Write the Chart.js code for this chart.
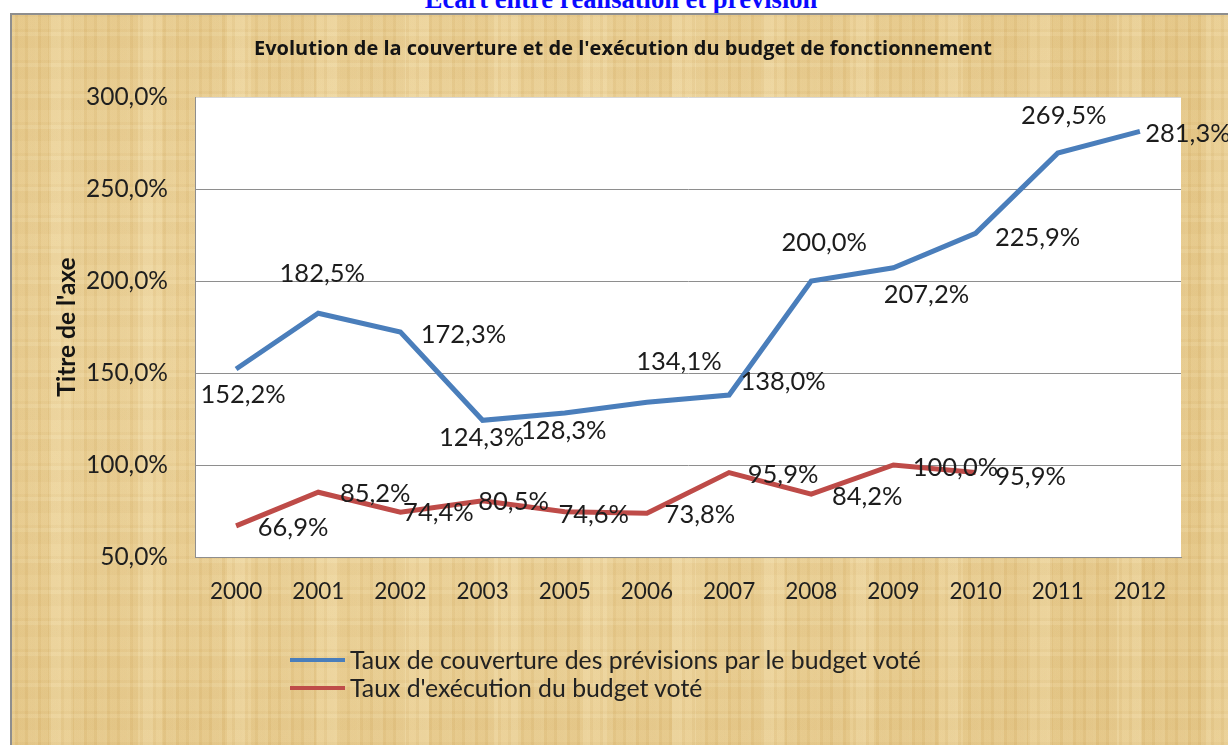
<!DOCTYPE html>
<html lang="fr">
<head>
<meta charset="utf-8">
<title>Budget de fonctionnement</title>
<script src="https://cdn.jsdelivr.net/npm/chart.js@4.4.1/dist/chart.umd.min.js"></script>
<style>
  html, body { margin: 0; padding: 0; background: #fff; }
  body { width: 1228px; height: 745px; position: relative; overflow: hidden; }
  #heading {
    position: absolute; left: 0; top: -14px; width: 1242px;
    text-align: center; font: bold 26.5px/26px "Liberation Serif", serif; color: #0a0aff;
  }
  /* parchment panel behind the chart */
  #panel {
    position: absolute; left: 10px; top: 13px; right: -4px; bottom: -4px;
    border-top: 2px solid #8e8e8e; border-left: 2px solid #8e8e8e;
    background-color: #e7ca8b;
    background-image:
      repeating-linear-gradient(90deg, rgba(255,246,214,0.13) 0 3px, rgba(196,154,84,0.07) 3px 6px, rgba(255,240,200,0.08) 6px 13px, rgba(186,146,78,0.06) 13px 16px, rgba(255,248,220,0.10) 16px 23px),
      repeating-linear-gradient(90deg, rgba(205,165,95,0.09) 0 37px, rgba(255,245,215,0.12) 37px 61px, rgba(200,160,90,0.06) 61px 89px),
      repeating-linear-gradient(0deg, rgba(255,250,225,0.10) 0 4px, rgba(180,140,72,0.05) 4px 7px, rgba(255,242,205,0.05) 7px 19px, rgba(190,150,80,0.05) 19px 31px),
      radial-gradient(ellipse at 40% 45%, rgba(255,240,200,0.32), rgba(215,175,100,0.15) 80%);
  }
  #chart { position: absolute; left: 0; top: 0; }
  #title {
    position: absolute; left: 0; top: 36px; width: 1246px; text-align: center;
    font: bold 20px/24px "Open Sans", sans-serif; color: #141414;
  }
  #legend { position: absolute; left: 290px; top: 646px; font: 24.8px/28px Lato, sans-serif; color: #222; }
  #legend .item { display: flex; align-items: center; height: 28px; }
  #legend .swatch { width: 55px; height: 4px; margin-right: 5px; }
</style>
</head>
<body>
<div id="heading">Ecart entre réalisation et prévision</div>
<div id="panel"></div>
<canvas id="chart" width="1228" height="745"></canvas>
<div id="title">Evolution de la couverture et de l'exécution du budget de fonctionnement</div>
<div id="legend"></div>

<script>
// années (2004 absente de la série)
const years = ['2000', '2001', '2002', '2003', '2005', '2006', '2007', '2008', '2009', '2010', '2011', '2012'];

// Taux de couverture des prévisions par le budget voté (%)
const tauxCouverture = [152.2, 182.5, 172.3, 124.3, 128.3, 134.1, 138.0, 200.0, 207.2, 225.9, 269.5, 281.3];

// Taux d'exécution du budget voté (%) - pas de valeur après 2010
const tauxExecution = [66.9, 85.2, 74.4, 80.5, 74.6, 73.8, 95.9, 84.2, 100.0, 95.9, null, null];

// graduations de l'axe vertical
const yMin = 50;
const yMax = 300;
const yStep = 50;

// décalage (dx, dy) de chaque étiquette par rapport à son point
const couvertureLabelPos = [[7, 26], [4, -39], [63, 3], [-1, 17], [-1, 18], [32, -40], [54, -13], [13, -38], [33, 27], [62, 4], [6, -37], [48, 2]];
const executionLabelPos = [[57, 2], [57, 2], [38, 1], [31, 1], [29, 3], [53, 2], [54, 2], [56, 3], [62, 3], [55, 4]];

const BLUE = '#4a7ebb';
const RED = '#be4b48';

function pct(v) {
    return v.toFixed(1).replace('.', ',') + '%';
}

// fond blanc de la zone de tracé
const plotBackground = {
    id: 'plotBackground',
    beforeDraw(chart) {
        const { ctx, chartArea: a } = chart;
        ctx.save();
        ctx.fillStyle = '#ffffff';
        ctx.fillRect(a.left, a.top, a.right - a.left, a.bottom - a.top);
        ctx.restore();
    }
};

// étiquettes de valeurs à côté des points
const valueLabels = {
    id: 'valueLabels',
    afterDatasetsDraw(chart) {
        const ctx = chart.ctx;
        ctx.save();
        ctx.font = '25.5px Lato';
        ctx.fillStyle = '#1c1c1c';
        ctx.textAlign = 'center';
        ctx.textBaseline = 'middle';
        chart.data.datasets.forEach((ds, i) => {
            const meta = chart.getDatasetMeta(i);
            meta.data.forEach((pt, j) => {
                const v = ds.data[j];
                if (v === null || v === undefined) return;
                const off = ds.labelPos[j] || [0, -20];
                ctx.fillText(pct(v), pt.x + off[0], pt.y + off[1]);
            });
        });
        ctx.restore();
    }
};

const ctx = document.getElementById('chart').getContext('2d');

const chart = new Chart(ctx, {
    type: 'line',
    data: {
        labels: years,
        datasets: [
            {
                label: 'Taux de couverture des prévisions par le budget voté',
                data: tauxCouverture,
                labelPos: couvertureLabelPos,
                borderColor: BLUE,
                backgroundColor: BLUE,
                borderWidth: 5,
                pointRadius: 0,
                tension: 0
            },
            {
                label: "Taux d'exécution du budget voté",
                data: tauxExecution,
                labelPos: executionLabelPos,
                borderColor: RED,
                backgroundColor: RED,
                borderWidth: 5,
                pointRadius: 0,
                tension: 0
            }
        ]
    },
    options: {
        responsive: false,
        animation: false,
        devicePixelRatio: 1,
        layout: { padding: { left: 0, top: 97, right: 47, bottom: 0 } },
        plugins: {
            legend: { display: false },
            title: { display: false },
            tooltip: { enabled: false }
        },
        scales: {
            x: {
                offset: true,
                grid: { display: false, drawTicks: false },
                border: { display: true, color: '#8e8e8e', width: 1 },
                ticks: { color: '#1f1f1f', font: { family: 'Lato', size: 22.5 }, padding: 21, maxRotation: 0, autoSkip: false },
                afterFit(scale) { scale.height = 188; }
            },
            y: {
                min: yMin,
                max: yMax,
                grid: {
                    drawTicks: false,
                    color: (c) => (c.tick && c.tick.value === yMax ? '#d8d8d8' : '#8e8e8e'),
                    lineWidth: 1
                },
                border: { display: true, color: '#8e8e8e', width: 1 },
                ticks: {
                    stepSize: yStep,
                    color: '#1f1f1f',
                    font: { family: 'Lato', size: 24.5 },
                    padding: 27,
                    callback: (v) => pct(v)
                },
                title: {
                    display: true,
                    text: "Titre de l'axe",
                    color: '#141414',
                    font: { family: 'Lato', size: 24.5, weight: 'bold' },
                    padding: { top: 52, bottom: 0 }
                },
                afterFit(scale) { scale.width = 195; }
            }
        }
    },
    plugins: [plotBackground, valueLabels]
});

// légende en deux lignes sous le graphique
const legend = document.getElementById('legend');
chart.data.datasets.forEach(ds => {
    const item = document.createElement('div');
    item.className = 'item';
    const sw = document.createElement('span');
    sw.className = 'swatch';
    sw.style.background = ds.borderColor;
    const txt = document.createElement('span');
    txt.textContent = ds.label;
    item.appendChild(sw);
    item.appendChild(txt);
    legend.appendChild(item);
});
</script>
</body>
</html>
